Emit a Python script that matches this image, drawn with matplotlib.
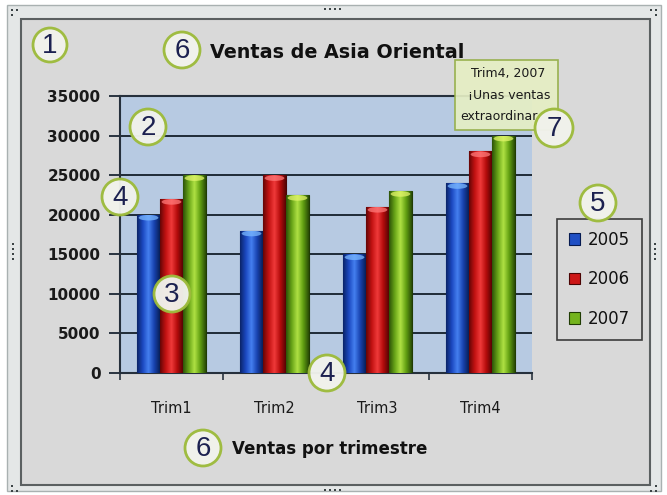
import numpy as np
import matplotlib.pyplot as plt
from matplotlib.patches import Rectangle, Circle, Ellipse
from matplotlib.colors import LinearSegmentedColormap

quarters = ['Trim1', 'Trim2', 'Trim3', 'Trim4']
years = ['2005', '2006', '2007']
sales_2005 = [20000, 18000, 15000, 24000]
sales_2006 = [22000, 25000, 21000, 28000]
sales_2007 = [25000, 22500, 23000, 30000]
y_ticks = [0, 5000, 10000, 15000, 20000, 25000, 30000, 35000]

# numbered callouts: label, x, y, radius (pixels from top-left)
callouts = [('1', 50, 45, 17), ('6', 182, 50, 18), ('2', 148, 127, 18),
            ('4', 120, 197, 18), ('3', 172, 294, 18), ('4', 327, 373, 18),
            ('6', 203, 448, 18), ('5', 598, 203, 18), ('7', 554, 128, 19)]

W, H = 667, 495
fig = plt.figure(figsize=(W / 100, H / 100), dpi=100)
fig.patch.set_facecolor('white')

# background layer in pixel coordinates
bg = fig.add_axes([0, 0, 1, 1], zorder=0)
bg.set_xlim(0, W)
bg.set_ylim(H, 0)
bg.axis('off')
bg.add_patch(Rectangle((7, 5), 654, 486, fc='#e4e7e7', ec='#a9b1b1', lw=1))
bg.add_patch(Rectangle((21, 19), 629, 466, fc='#d9d9d9', ec='#5b6061', lw=1.5))

# resize handles
dots = [(325, 9), (330, 9), (335, 9), (340, 9),
        (325, 490), (330, 490), (335, 490), (340, 490),
        (13, 244), (13, 249), (13, 254), (13, 259),
        (655, 244), (655, 249), (655, 254), (655, 259),
        (12, 10), (17, 10), (12, 15),
        (651, 10), (656, 10), (656, 15),
        (12, 486), (12, 491), (17, 491),
        (656, 486), (651, 491), (656, 491)]
for dx, dy in dots:
    bg.add_patch(Rectangle((dx - 1.2, dy - 1.2), 2.4, 2.4, fc='#3c4446', ec='none'))

# main chart
ax = fig.add_axes([120 / W, 1 - 373 / H, 412 / W, 277 / H], zorder=1)
ax.set_facecolor('#b7cae2')

series = [sales_2005, sales_2006, sales_2007]
ramps = [
    ['#0a2468', '#1b48c0', '#4580f0', '#1843b0', '#071f58'],
    ['#640606', '#c21212', '#f03a3a', '#b50c0c', '#560404'],
    ['#2c5208', '#68a418', '#b0e244', '#62a012', '#284a06'],
]
edges = ['#061a50', '#4a0404', '#203c04']
bases = ['#1f4fc4', '#cc1616', '#74b41e']
caps = ['#7ab8ff', '#ff7a7a', '#e2f46a']

x = np.arange(len(quarters))
width = 0.223
grad = np.linspace(0, 1, 128).reshape(1, -1)

for i, vals in enumerate(series):
    cmap = LinearSegmentedColormap.from_list('bar%d' % i, ramps[i])
    bars = ax.bar(x + (i - 1) * width, vals, width, color=bases[i],
                  edgecolor=edges[i], linewidth=0.8, zorder=3)
    for b in bars:
        bx, bw, bh = b.get_x(), b.get_width(), b.get_height()
        im = ax.imshow(grad, cmap=cmap, extent=(bx, bx + bw, 0, bh),
                       aspect='auto', interpolation='bilinear', zorder=3.1)
        im.set_clip_path(b)
        top = Ellipse((bx + bw / 2, bh - 380), bw * 0.86, 700,
                      fc=caps[i], ec='none', alpha=0.75, zorder=3.2)
        ax.add_patch(top)
        top.set_clip_path(b)

ax.set_xlim(-0.5, 3.5)
ax.set_ylim(0, 35000)
ax.set_yticks(y_ticks)
ax.set_yticklabels([str(v) for v in y_ticks], fontsize=11, fontweight='bold',
                   color='#1a1a1a')
ax.set_xticks(x)
ax.set_xticklabels(quarters, fontsize=10.5, color='#1a1a1a')
ax.set_xticks(np.arange(-0.5, 4, 1), minor=True)
ax.tick_params(axis='y', direction='out', length=8, width=1.4,
               color='#2a3440', pad=6)
ax.tick_params(axis='x', which='major', length=0, pad=20)
ax.tick_params(axis='x', which='minor', direction='out', length=5,
               width=1.2, color='#2a3440')
ax.yaxis.grid(True, color='#1f2b37', lw=1.4)
ax.set_axisbelow(True)
for side in ['left', 'bottom', 'top']:
    ax.spines[side].set_color('#26303c')
    ax.spines[side].set_linewidth(1.5)
ax.spines['right'].set_visible(False)

handles = [Rectangle((0, 0), 1, 1, fc=bases[i], ec=edges[i], lw=0.8)
           for i in range(3)]
leg = ax.legend(handles, years, loc='upper left',
                bbox_to_anchor=(557 / W, 1 - 219 / H),
                bbox_transform=fig.transFigure, borderaxespad=0, fontsize=12,
                handlelength=0.7, handleheight=0.7, handletextpad=0.45,
                labelspacing=1.3, borderpad=0.7, fancybox=False,
                framealpha=1)
leg.get_frame().set_facecolor('#d9d9d9')
leg.get_frame().set_edgecolor('#3c3c3c')
leg.get_frame().set_linewidth(1.2)
for t in leg.get_texts():
    t.set_color('#111111')

# foreground layer: titles, data callout, numbered circles
fg = fig.add_axes([0, 0, 1, 1], zorder=5)
fg.set_xlim(0, W)
fg.set_ylim(H, 0)
fg.axis('off')
fg.patch.set_alpha(0)

fg.text(210, 52, 'Ventas de Asia Oriental', fontsize=13.8, fontweight='bold',
        ha='left', va='center', color='#111111')
fg.text(232, 449, 'Ventas por trimestre', fontsize=12, fontweight='bold',
        ha='left', va='center', color='#111111')

fg.add_patch(Rectangle((455, 60), 103, 70, fc='#e5eec4', ec='#93ad45',
                       lw=1.2, alpha=0.92, zorder=2))
fg.text(508, 73, 'Trim4, 2007', fontsize=9, ha='center', va='center',
        color='#1a1a1a', zorder=3)
fg.text(509, 95, '¡Unas ventas', fontsize=9, ha='center', va='center',
        color='#1a1a1a', zorder=3)
fg.text(460, 116, 'extraordinar', fontsize=9, ha='left', va='center',
        color='#1a1a1a', zorder=3)

for label, cx, cy, r in callouts:
    fg.add_patch(Circle((cx, cy), r, fc='#f1f2ec', ec='#9dbb3c', lw=2,
                        alpha=0.97, zorder=6))
    fg.text(cx, cy + 1, label, fontsize=20, family='Liberation Sans',
            ha='center', va='center', color='#1c2150', zorder=7)

fig.savefig('out.png', dpi=100)
